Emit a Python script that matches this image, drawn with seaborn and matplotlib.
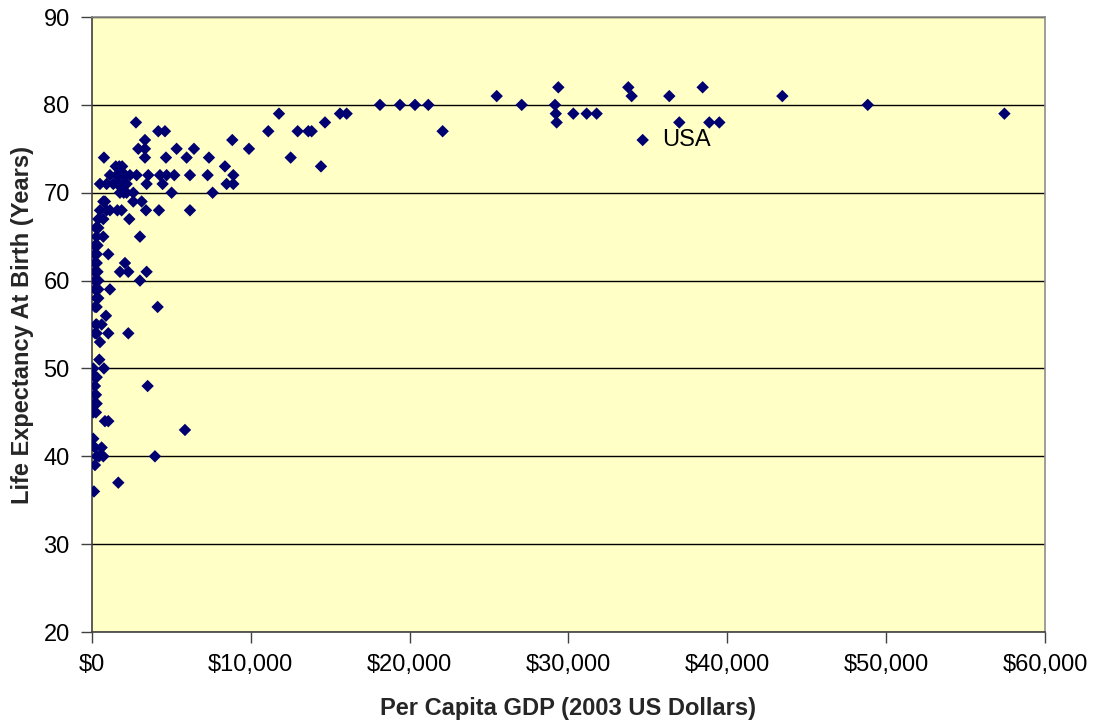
import matplotlib
matplotlib.use("Agg")
import matplotlib.pyplot as plt
import seaborn as sns
import pandas as pd
from matplotlib.ticker import FuncFormatter

# Per capita GDP (2003 US$) and life expectancy at birth (years)
gdp = [
    29360, 33765, 38445,
    25480, 33975, 36346, 43463,
    18132, 19391, 20336, 21175, 27054, 29150, 48838,
    11774, 15614, 16034, 29200, 30303, 31143, 31772, 57443,
    2770, 14670, 29255, 36976, 38865, 39495,
    4175, 4596, 11100, 12951, 13621, 13831, 22077,
    3337, 8835, 34670,
    2917, 3337, 5330, 6422, 9885,
    755, 3337, 4659, 5960, 7366, 12510,
    1720, 8374, 14418, 1500, 1900,
    1133, 1553, 1973, 2392, 2812, 3546, 4281, 4701, 5183, 6170, 7282, 8898, 1700, 2100,
    504, 923, 1343, 1763, 2182, 3441, 4449, 8478, 8898, 1600, 2000,
    1763, 2182, 2602, 5015, 7597, 2000,
    714, 818, 2602, 3127,
    504, 923, 1133, 1868, 3400, 4218, 6170, 1600,
    399, 714, 2350,
    294, 399, 250,
    714, 3022, 294,
    189, 350, 250,
    189, 1028, 300,
    189, 2078, 300,
    189, 1763, 2288, 3441, 350,
    399, 3022, 200,
    399, 1133, 200,
    399, 294,
    294, 4134, 200,
    881,
    294, 609, 250,
    294, 1028, 2288, 200,
    504,
    462,
    84, 755,
    189, 300,
    189, 3505,
    189, 250,
    294, 150,
    84, 250,
    818, 1028,
    5855,
    84,
    189, 609,
    294, 714, 3966, 450,
    189,
    1658,
    126,
]
life = [
    82, 82, 82,
    81, 81, 81, 81,
    80, 80, 80, 80, 80, 80, 80,
    79, 79, 79, 79, 79, 79, 79, 79,
    78, 78, 78, 78, 78, 78,
    77, 77, 77, 77, 77, 77, 77,
    76, 76, 76,
    75, 75, 75, 75, 75,
    74, 74, 74, 74, 74, 74,
    73, 73, 73, 73, 73,
    72, 72, 72, 72, 72, 72, 72, 72, 72, 72, 72, 72, 72, 72,
    71, 71, 71, 71, 71, 71, 71, 71, 71, 71, 71,
    70, 70, 70, 70, 70, 70,
    69, 69, 69, 69,
    68, 68, 68, 68, 68, 68, 68, 68,
    67, 67, 67,
    66, 66, 66,
    65, 65, 65,
    64, 64, 64,
    63, 63, 63,
    62, 62, 62,
    61, 61, 61, 61, 61,
    60, 60, 60,
    59, 59, 59,
    58, 58,
    57, 57, 57,
    56,
    55, 55, 55,
    54, 54, 54, 54,
    53,
    51,
    50, 50,
    49, 49,
    48, 48,
    47, 47,
    46, 46,
    45, 45,
    44, 44,
    43,
    42,
    41, 41,
    40, 40, 40, 40,
    39,
    37,
    36,
]

x_ticks = [0, 10000, 20000, 30000, 40000, 50000, 60000]
y_ticks = [20, 30, 40, 50, 60, 70, 80, 90]
usa_label = "USA"
usa_pos = (35900, 76)

df = pd.DataFrame({"gdp": gdp, "life": life})

sns.set_style("white")
plt.rcParams["font.family"] = ["Liberation Sans", "DejaVu Sans"]

fig = plt.figure(figsize=(10.96, 7.21), dpi=100)
ax = fig.add_axes([0.0839, 0.1234, 0.8696, 0.8530])
ax.set_facecolor("#FFFFC6")

sns.scatterplot(data=df, x="gdp", y="life", ax=ax, marker="D", s=40,
                color="#000070", edgecolor="none", linewidth=0, zorder=3)

ax.set_xlim(0, 60000)
ax.set_ylim(20, 90)
ax.set_xticks(x_ticks)
ax.set_yticks(y_ticks)
ax.xaxis.set_major_formatter(FuncFormatter(lambda v, p: f"${int(v):,}"))
ax.yaxis.grid(True, color="black", linewidth=1.0, zorder=1)
ax.xaxis.grid(False)
ax.set_axisbelow(True)

for side in ["top", "right"]:
    ax.spines[side].set_color("#8C8C8C")
    ax.spines[side].set_linewidth(1.2)
for side in ["left", "bottom"]:
    ax.spines[side].set_color("#404040")
    ax.spines[side].set_linewidth(1.2)

ax.tick_params(axis="both", direction="out", length=8, width=1.0,
               color="#404040", labelsize=17, labelcolor="black", pad=8,
               left=True, bottom=True)

ax.set_xlabel("Per Capita GDP (2003 US Dollars)", fontsize=17,
              fontweight="bold", labelpad=15)
ax.set_ylabel("Life Expectancy At Birth (Years)", fontsize=17,
              fontweight="bold", labelpad=7)

ax.text(usa_pos[0], usa_pos[1], usa_label, fontsize=17, va="center",
        ha="left", color="black", zorder=4)

fig.savefig("out.png", dpi=100, facecolor="white")
